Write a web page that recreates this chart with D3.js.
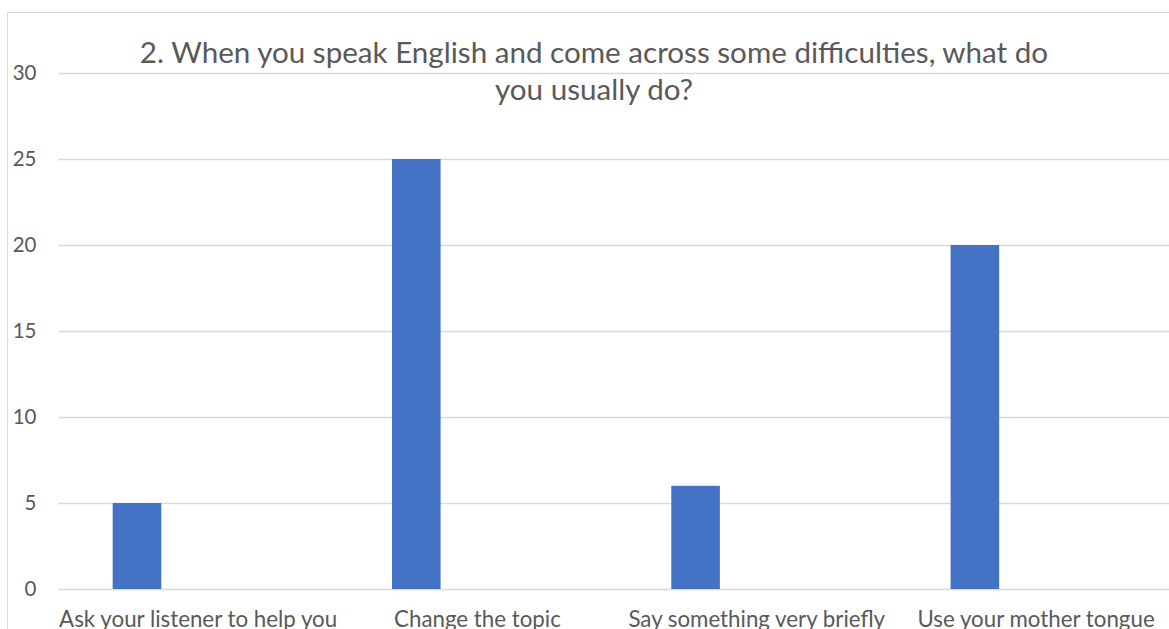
<!DOCTYPE html>
<html>
<head>
<meta charset="utf-8">
<script src="https://d3js.org/d3.v7.min.js"></script>
<style>
  body { margin: 0; background: #fff; }
  svg { display: block; font-family: Lato, "Open Sans", sans-serif; }
</style>
</head>
<body>
<div id="chart"></div>
<script>
// chart data
var categories = ["Ask your listener to help you", "Change the topic",
                  "Say something very briefly", "Use your mother tongue"];
var values = [5, 25, 6, 20];
var yTicks = [0, 5, 10, 15, 20, 25, 30];
var titleLines = ["2. When you speak English and come across some difficulties, what do",
                  "you usually do?"];

var width = 1169, height = 629;
var textColor = "#595959";

var svg = d3.select("#chart").append("svg")
    .attr("width", width)
    .attr("height", height);

// chart frame (it runs off the right and bottom edge of the picture)
svg.append("rect")
    .attr("x", 7.5).attr("y", 12.5)
    .attr("width", 1200).attr("height", 700)
    .attr("fill", "#fff")
    .attr("stroke", "#d9d9d9");

// plot area
var plotLeft = 58.5, plotRight = 58.5 + 4 * 279.3;
var plotTop = 73, plotBottom = 589;

var x = d3.scaleBand()
    .domain(categories)
    .range([plotLeft, plotRight]);

var y = d3.scaleLinear()
    .domain([0, 30])
    .range([plotBottom, plotTop]);

// gridlines and y labels
var yAxis = d3.axisLeft(y)
    .tickValues(yTicks)
    .tickSize(-(plotRight - plotLeft))
    .tickPadding(22);

var gy = svg.append("g")
    .attr("transform", "translate(" + plotLeft + ",0)")
    .call(yAxis);
gy.select(".domain").remove();
gy.selectAll(".tick line")
    .attr("stroke", "#d9d9d9")
    .attr("stroke-width", 1.3);
gy.selectAll(".tick text")
    .attr("fill", textColor)
    .attr("font-size", 20.5)
    .attr("font-family", "Lato, sans-serif");

// bars sit left of each category centre (Excel style cluster)
var bw = x.bandwidth();
svg.append("g").selectAll("rect")
    .data(values)
    .enter().append("rect")
    .attr("x", function(d, i) { return x(categories[i]) + bw * 0.194; })
    .attr("width", bw * 0.174)
    .attr("y", function(d) { return y(d); })
    .attr("height", function(d) { return y(0) - y(d); })
    .attr("fill", "#4472c4");

// category labels
svg.append("g").selectAll("text")
    .data(categories)
    .enter().append("text")
    .attr("x", function(d) { return x(d) + bw / 2; })
    .attr("y", 627)
    .attr("text-anchor", "middle")
    .attr("fill", textColor)
    .attr("font-size", 22.3)
    .text(function(d) { return d; });

// title
svg.append("g").selectAll("text")
    .data(titleLines)
    .enter().append("text")
    .attr("x", 594)
    .attr("y", function(d, i) { return 63 + i * 37; })
    .attr("text-anchor", "middle")
    .attr("fill", textColor)
    .attr("font-size", 29.6)
    .text(function(d) { return d; });
</script>
</body>
</html>
